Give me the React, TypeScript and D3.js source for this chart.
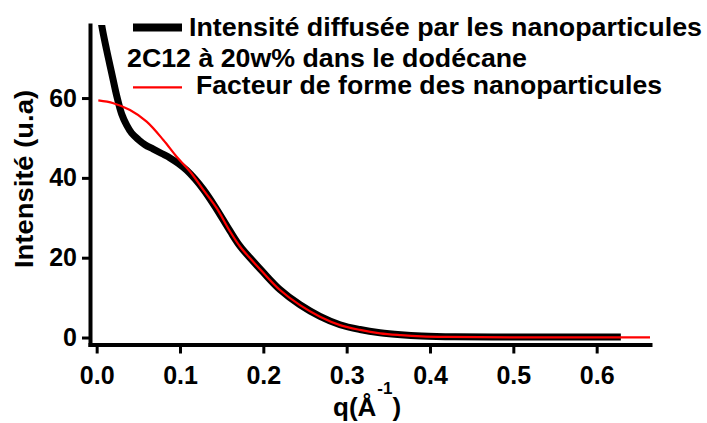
import React, { useEffect, useRef } from 'react';
import * as d3 from 'd3';

// experimental scattering intensity (black)
const qExp = [0.004, 0.006, 0.012, 0.018, 0.024, 0.030, 0.036, 0.042, 0.050, 0.058, 0.068, 0.078, 0.088, 0.098, 0.108, 0.118, 0.128, 0.142, 0.160, 0.172, 0.186, 0.200, 0.220, 0.244, 0.268, 0.292, 0.316, 0.340, 0.365, 0.390, 0.430, 0.500, 0.570, 0.629];
const iExp = [82, 78.3, 72, 66.3, 60.6, 56.0, 53.2, 51.2, 49.6, 48.3, 47.2, 46.1, 45.0, 43.6, 41.9, 39.7, 37.1, 32.8, 26.7, 22.9, 19.5, 16.3, 12.0, 8.2, 5.3, 3.2, 2.0, 1.2, 0.7, 0.4, 0.2, 0.15, 0.12, 0.12];

// form factor (red)
const qFit = [0.002, 0.020, 0.040, 0.060, 0.080, 0.096, 0.112, 0.128, 0.144, 0.160, 0.172, 0.186, 0.200, 0.220, 0.244, 0.268, 0.292, 0.316, 0.340, 0.365, 0.390, 0.420, 0.460, 0.520, 0.580, 0.664];
const iFit = [59.4, 58.7, 57.0, 54.1, 49.5, 45.3, 41.6, 37.0, 32.4, 26.6, 22.8, 19.4, 16.2, 11.9, 8.1, 5.2, 3.1, 1.9, 1.05, 0.6, 0.3, 0.15, 0.08, 0.05, 0.05, 0.05];

const xTicks = [0, 0.1, 0.2, 0.3, 0.4, 0.5, 0.6];
const yTicks = [0, 20, 40, 60];
const legendLabels = [
    'Intensité diffusée par les nanoparticules',
    '2C12 à 20w% dans le dodécane',
    'Facteur de forme des nanoparticules',
];

const width = 707;
const height = 423;
const font = '"Liberation Sans", Arial, Helvetica, sans-serif';

type Pt = { q: number; v: number };

const App: React.FC = () => {
    const svgRef = useRef<SVGSVGElement | null>(null);

    useEffect(() => {
        const svg = d3.select(svgRef.current);
        svg.selectAll('*').remove();

        const x = d3.scaleLinear().domain([-0.008, 0.664]).range([90, 650]);
        const y = d3.scaleLinear().domain([-1.75, 78.3]).range([344.5, 25]);

        svg.append('defs').append('clipPath').attr('id', 'plot-clip')
            .append('rect')
            .attr('x', 88).attr('y', 25)
            .attr('width', 570).attr('height', 330);

        // axes
        const gx = svg.append('g')
            .attr('transform', `translate(0,${y.range()[0]})`)
            .call(d3.axisBottom(x).tickValues(xTicks).tickFormat(d3.format('.1f')).tickSize(9).tickSizeOuter(0).tickPadding(13));
        const gy = svg.append('g')
            .attr('transform', `translate(${x.range()[0]},0)`)
            .call(d3.axisLeft(y).tickValues(yTicks).tickFormat(d3.format('d')).tickSize(8).tickSizeOuter(0).tickPadding(5));

        [gx, gy].forEach(g => {
            g.select('.domain').attr('stroke', '#000').attr('stroke-width', 4).attr('stroke-linecap', 'square');
            g.selectAll('.tick line').attr('stroke', '#000').attr('stroke-width', 3);
            g.selectAll('.tick text')
                .attr('fill', '#000')
                .style('font-family', font)
                .style('font-weight', 'bold')
                .style('font-size', '25px');
        });

        const line = d3.line<Pt>()
            .x(d => x(d.q))
            .y(d => y(d.v))
            .curve(d3.curveCatmullRom.alpha(0.5));

        const expData: Pt[] = qExp.map((q, i) => ({ q, v: iExp[i] }));
        const fitData: Pt[] = qFit.map((q, i) => ({ q, v: iFit[i] }));

        const plot = svg.append('g').attr('clip-path', 'url(#plot-clip)');
        plot.append('path')
            .datum(expData)
            .attr('fill', 'none')
            .attr('stroke', '#000')
            .attr('stroke-width', 7)
            .attr('stroke-linejoin', 'round')
            .attr('d', line);
        plot.append('path')
            .datum(fitData)
            .attr('fill', 'none')
            .attr('stroke', '#ff0000')
            .attr('stroke-width', 2.2)
            .attr('d', line);

        // axis titles
        svg.append('text')
            .attr('transform', 'translate(33,179) rotate(-90)')
            .attr('text-anchor', 'middle')
            .attr('textLength', 178)
            .attr('lengthAdjust', 'spacingAndGlyphs')
            .style('font-family', font)
            .style('font-weight', 'bold')
            .style('font-size', '25px')
            .text('Intensité (u.a)');

        const xt = svg.append('text')
            .attr('x', 333)
            .attr('y', 416)
            .style('font-family', font)
            .style('font-weight', 'bold')
            .style('font-size', '26px');
        xt.append('tspan').text('q(Å');
        xt.append('tspan').attr('dy', -22).attr('dx', 1).style('font-size', '17px').text('-1');
        xt.append('tspan').attr('dy', 22).text(')');

        // legend
        const legend = svg.append('g');
        legend.append('line')
            .attr('x1', 133).attr('x2', 182).attr('y1', 27.5).attr('y2', 27.5)
            .attr('stroke', '#000').attr('stroke-width', 8);
        legend.append('line')
            .attr('x1', 133).attr('x2', 182).attr('y1', 87.3).attr('y2', 87.3)
            .attr('stroke', '#ff0000').attr('stroke-width', 2.2);

        const legendPos = [
            { x: 189, y: 36, w: 513 },
            { x: 127, y: 66.5, w: 400 },
            { x: 196, y: 93.5, w: 466 },
        ];
        legendLabels.forEach((label, i) => {
            legend.append('text')
                .attr('x', legendPos[i].x)
                .attr('y', legendPos[i].y)
                .attr('textLength', legendPos[i].w)
                .attr('lengthAdjust', 'spacingAndGlyphs')
                .style('font-family', font)
                .style('font-weight', 'bold')
                .style('font-size', '26px')
                .text(label);
        });
    }, []);

    return (
        <svg
            ref={svgRef}
            width={width}
            height={height}
            style={{ position: 'absolute', left: 0, top: 0, background: '#fff' }}
        />
    );
};

export default App;
